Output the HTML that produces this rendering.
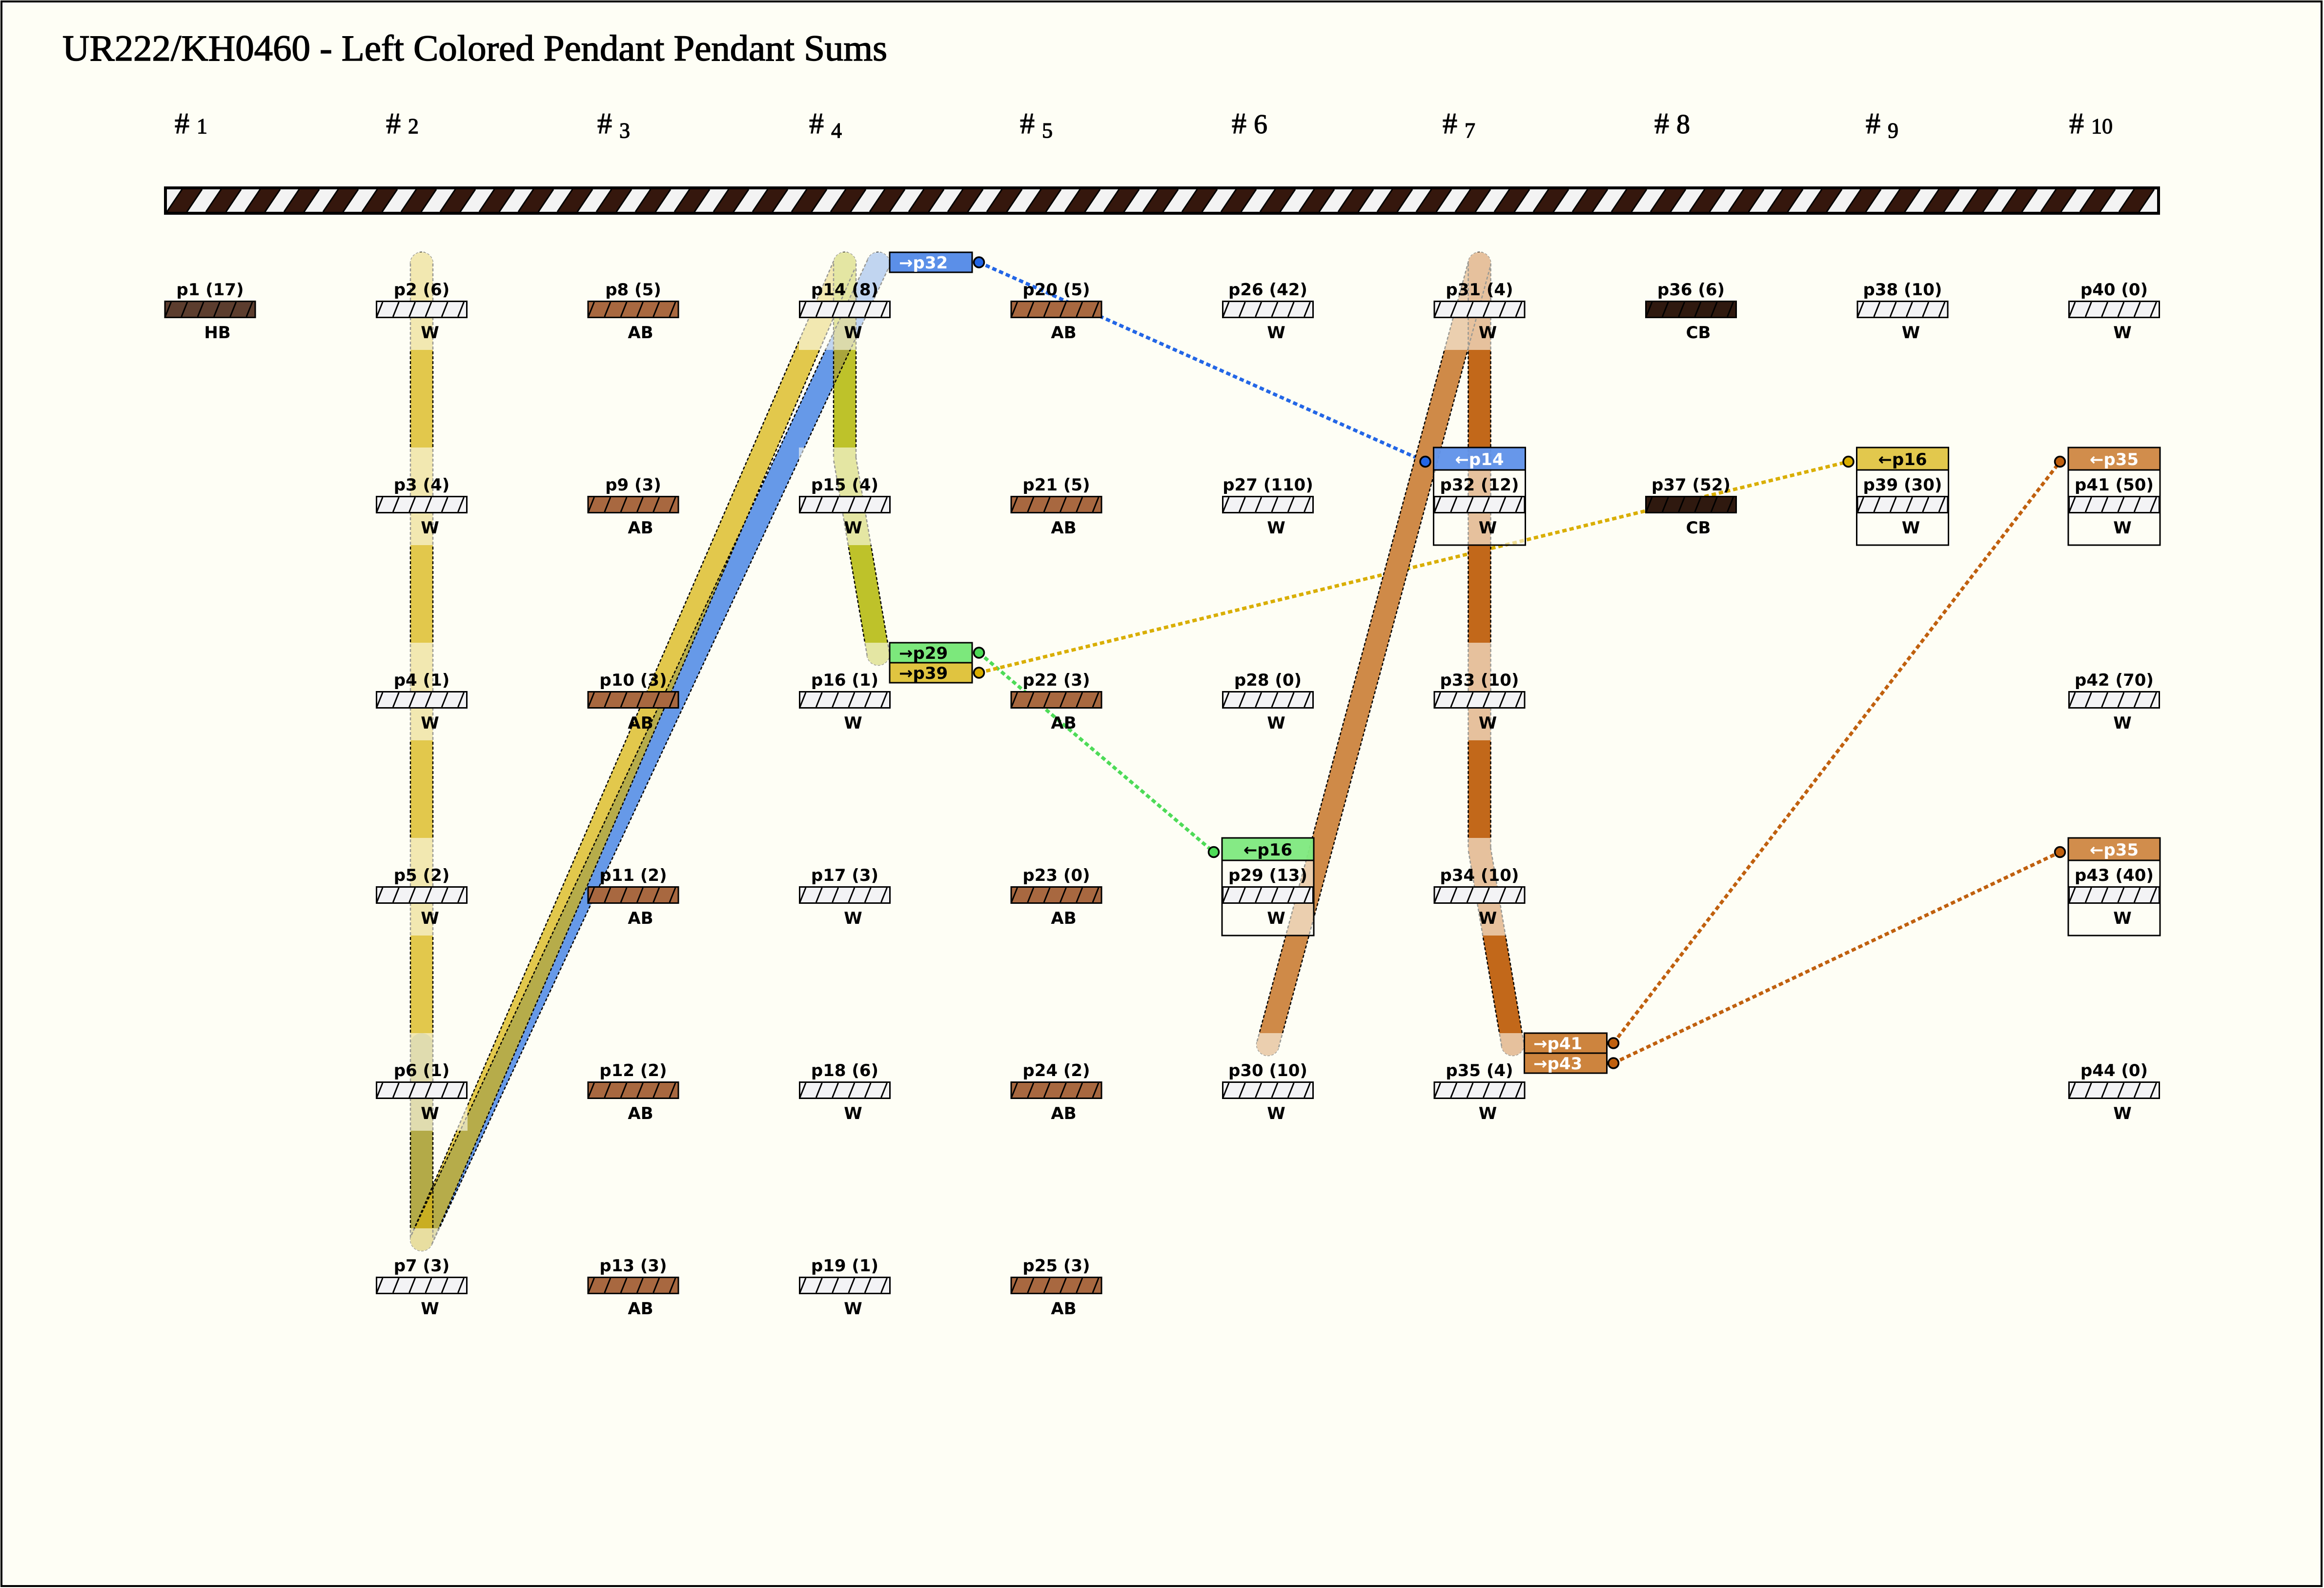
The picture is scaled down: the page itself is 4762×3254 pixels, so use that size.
<!DOCTYPE html>
<html><head><meta charset="utf-8"><title>UR222/KH0460 - Left Colored Pendant Pendant Sums</title>
<style>
html,body{margin:0;padding:0;background:#fefef5;}
svg{display:block;}
.lab{font-family:"DejaVu Sans","Liberation Sans",sans-serif;font-weight:bold;font-size:34px;fill:#000;}
.hdr{font-family:"Liberation Serif",serif;font-size:60px;fill:#000;stroke:#000;stroke-width:1.2px;}
</style></head>
<body>
<svg xmlns="http://www.w3.org/2000/svg" width="4762" height="3254" viewBox="0 0 4762 3254">
<defs>
  <pattern id="cord" patternUnits="userSpaceOnUse" x="342" y="388" width="80" height="46">
    <rect x="0" y="0" width="80" height="46" fill="#f3f3f3"/>
    <polygon points="0,46 41,46 72,0 31,0" fill="#35170d"/>
    <line x1="0" y1="46" x2="31" y2="0" stroke="#000" stroke-width="3"/>
    <line x1="41" y1="46" x2="72" y2="0" stroke="#000" stroke-width="3"/>
    <line x1="80" y1="46" x2="111" y2="0" stroke="#000" stroke-width="3"/>
  </pattern>
  <g id="stl" stroke="#000" stroke-width="3" fill="none">
    <line x1="2" y1="33" x2="14" y2="3"/><line x1="35.3" y1="33" x2="47.3" y2="3"/>
    <line x1="68.6" y1="33" x2="80.6" y2="3"/><line x1="101.9" y1="33" x2="113.9" y2="3"/>
    <line x1="135.2" y1="33" x2="147.2" y2="3"/><line x1="168.5" y1="33" x2="180.5" y2="3"/>
  </g>
  <g id="bW"><rect x="1.5" y="1.5" width="185" height="33" fill="#f3f3f5"/><use href="#stl"/><rect x="1.5" y="1.5" width="185" height="33" fill="none" stroke="#000" stroke-width="3"/></g>
  <g id="bAB"><rect x="1.5" y="1.5" width="185" height="33" fill="#a86840"/><use href="#stl"/><rect x="1.5" y="1.5" width="185" height="33" fill="none" stroke="#000" stroke-width="3"/></g>
  <g id="bHB"><rect x="1.5" y="1.5" width="185" height="33" fill="#5c3d2e"/><use href="#stl"/><rect x="1.5" y="1.5" width="185" height="33" fill="none" stroke="#000" stroke-width="3"/></g>
  <g id="bCB"><rect x="1.5" y="1.5" width="185" height="33" fill="#2f190f"/><use href="#stl"/><rect x="1.5" y="1.5" width="185" height="33" fill="none" stroke="#000" stroke-width="3"/></g>
  <clipPath id="cS3">
    <polygon points="885.1,2549.15 1752.1,549.15 1709.9,530.85 842.9,2530.85"/>
    <circle cx="864" cy="2540" r="23"/><circle cx="1731" cy="540" r="23"/>
  </clipPath>
  <clipPath id="cS2"><rect x="841" y="2140" width="46" height="400"/><circle cx="864" cy="2540" r="23"/></clipPath>
  <clipPath id="cS5"><rect x="1708" y="540" width="46" height="400"/></clipPath>
</defs>

<rect x="0" y="0" width="4762" height="3254" fill="#fefef5"/>
<rect x="3" y="3" width="4754" height="3247" fill="none" stroke="#000" stroke-width="4"/>

<!-- Title -->
<text x="128" y="124" font-family="Liberation Serif, serif" font-size="75" stroke="#000" stroke-width="1.5" textLength="1690" lengthAdjust="spacingAndGlyphs">UR222/KH0460 - Left Colored Pendant Pendant Sums</text>

<!-- Column headers -->
<g class="hdr">
  <text x="358" y="273"># <tspan font-size="44">1</tspan></text>
  <text x="791" y="273"># <tspan font-size="44">2</tspan></text>
  <text x="1224" y="273"># <tspan font-size="44" dy="9">3</tspan></text>
  <text x="1658" y="273"># <tspan font-size="44" dy="9">4</tspan></text>
  <text x="2090" y="273"># <tspan font-size="44" dy="9">5</tspan></text>
  <text x="2524" y="273"># <tspan font-size="56">6</tspan></text>
  <text x="2956" y="273"># <tspan font-size="44" dy="9">7</tspan></text>
  <text x="3390" y="273"># <tspan font-size="56">8</tspan></text>
  <text x="3823" y="273"># <tspan font-size="44" dy="9">9</tspan></text>
  <text x="4240" y="273"># <tspan font-size="44">10</tspan></text>
</g>

<!-- Main cord -->
<rect x="339" y="385" width="4084" height="52" fill="url(#cord)" stroke="#000" stroke-width="6"/>

<!-- Dotted connectors (under bands) -->
<g fill="none" stroke-width="7" stroke-dasharray="9 6">
  <line x1="2006" y1="537.5" x2="2920.5" y2="946" stroke="#2366e6"/>
  <line x1="2006" y1="1337.5" x2="2487" y2="1746" stroke="#4ddb57"/>
  <line x1="2006" y1="1378.5" x2="3787.5" y2="946" stroke="#d9ae00"/>
  <line x1="3306" y1="2137.5" x2="4221" y2="946" stroke="#c0600e"/>
  <line x1="3306" y1="2178.5" x2="4221" y2="1746" stroke="#c0600e"/>
</g>

<!-- Band cap outlines -->
<g fill="none" stroke="#000" stroke-width="2.5" stroke-dasharray="5 3">
  <circle cx="864" cy="540" r="23"/>
  <circle cx="864" cy="2540" r="23"/>
  <circle cx="1731" cy="540" r="23"/>
  <circle cx="1799.5" cy="540" r="23"/>
  <circle cx="1799.5" cy="1340" r="23"/>
  <circle cx="2598" cy="2140" r="23"/>
  <circle cx="3031.5" cy="540" r="23"/>
  <circle cx="3099.5" cy="2140" r="23"/>
</g>

<!-- Band fills -->
<g fill="none" stroke-width="46" stroke-linecap="round">
  <line x1="864" y1="540" x2="864" y2="2140" stroke="#e2c84c"/>
  <line x1="2598" y1="2140" x2="3031.5" y2="540" stroke="#cf8a48"/>
  <line x1="864" y1="2540" x2="1799.5" y2="540" stroke="#6699e8"/>
  <line x1="864" y1="2540" x2="1731" y2="540" stroke="#e2c84c"/>
  <line x1="864" y1="2540" x2="1799.5" y2="540" stroke="#b6ac4a" clip-path="url(#cS3)"/>
  <line x1="864" y1="2140" x2="864" y2="2540" stroke="#b3aa48"/>
  <line x1="864" y1="2540" x2="1731" y2="540" stroke="#c9ae22" clip-path="url(#cS2)"/>
  <line x1="1731" y1="540" x2="1731" y2="940" stroke="#bec22a"/>
  <line x1="1731" y1="940" x2="1799.5" y2="1340" stroke="#bec22a"/>
  <line x1="864" y1="2540" x2="1799.5" y2="540" stroke="#a9a53c" clip-path="url(#cS5)"/>
  <line x1="3031.5" y1="540" x2="3031.5" y2="1740" stroke="#c2681a"/>
  <line x1="3031.5" y1="1740" x2="3099.5" y2="2140" stroke="#c2681a"/>
</g>

<!-- Band dashed edges -->
<g fill="none" stroke="#000" stroke-width="2.5" stroke-dasharray="6 4">
  <line x1="841" y1="540" x2="841" y2="2540"/>
  <line x1="887" y1="540" x2="887" y2="2540"/>
  <line x1="885.1" y1="2549.15" x2="1752.1" y2="549.15"/>
  <line x1="842.9" y1="2530.85" x2="1709.9" y2="530.85"/>
  <line x1="884.83" y1="2549.74" x2="1820.33" y2="549.74"/>
  <line x1="843.17" y1="2530.26" x2="1778.67" y2="530.26"/>
  <line x1="1708" y1="540" x2="1708" y2="940"/>
  <line x1="1754" y1="540" x2="1754" y2="940"/>
  <line x1="1753.67" y1="936.12" x2="1822.17" y2="1336.12"/>
  <line x1="1708.33" y1="943.88" x2="1776.83" y2="1343.88"/>
  <line x1="2620.2" y1="2146.01" x2="3053.7" y2="546.01"/>
  <line x1="2575.8" y1="2133.99" x2="3009.3" y2="533.99"/>
  <line x1="3008.5" y1="540" x2="3008.5" y2="1740"/>
  <line x1="3054.5" y1="540" x2="3054.5" y2="1740"/>
  <line x1="3054.17" y1="1736.15" x2="3122.17" y2="2136.15"/>
  <line x1="3008.83" y1="1743.85" x2="3076.83" y2="2143.85"/>
</g>

<!-- Fade overlays for member pendants -->
<g fill="#fefef5" fill-opacity="0.6">
  <rect x="770" y="517" width="188" height="200"/>
  <rect x="770" y="917" width="188" height="200"/>
  <rect x="770" y="1317" width="188" height="200"/>
  <rect x="770" y="1717" width="188" height="200"/>
  <rect x="770" y="2117" width="188" height="200"/>
  <rect x="770" y="2517" width="188" height="200"/>
  <rect x="1637" y="517" width="188" height="200"/>
  <rect x="1637" y="917" width="188" height="200"/>
  <rect x="1637" y="1317" width="188" height="200"/>
  <rect x="2504" y="2117" width="188" height="200"/>
  <rect x="2937.5" y="517" width="188" height="200"/>
  <rect x="2937.5" y="1317" width="188" height="200"/>
  <rect x="2937.5" y="1717" width="188" height="200"/>
  <rect x="2937.5" y="2117" width="188" height="200"/>
</g>

<!-- Boxed pendants (outer frame + header) -->
<g stroke="#000" stroke-width="3">
  <rect x="2504" y="1717" width="188" height="200" fill="#fefef5" fill-opacity="0.6"/>
  <rect x="2504" y="1717" width="188" height="46" fill="#7ce87c" fill-opacity="0.93"/>
  <rect x="2937.5" y="917" width="188" height="200" fill="#fefef5" fill-opacity="0.6"/>
  <rect x="2937.5" y="917" width="188" height="46" fill="#5b8fe8" fill-opacity="0.93"/>
  <rect x="3804.5" y="917" width="188" height="200" fill="#fefef5" fill-opacity="0.6"/>
  <rect x="3804.5" y="917" width="188" height="46" fill="#e0c440" fill-opacity="0.93"/>
  <rect x="4238" y="917" width="188" height="200" fill="#fefef5" fill-opacity="0.6"/>
  <rect x="4238" y="917" width="188" height="46" fill="#cd843e" fill-opacity="0.93"/>
  <rect x="4238" y="1717" width="188" height="200" fill="#fefef5" fill-opacity="0.6"/>
  <rect x="4238" y="1717" width="188" height="46" fill="#cd843e" fill-opacity="0.93"/>
</g>
<g class="lab" text-anchor="middle">
  <text x="2598" y="1753">←p16</text>
  <text x="3031.5" y="953" style="fill:#fff">←p14</text>
  <text x="3898.5" y="953">←p16</text>
  <text x="4332" y="953" style="fill:#fff">←p35</text>
  <text x="4332" y="1753" style="fill:#fff">←p35</text>
</g>

<!-- Pendant boxes -->
<use href="#bHB" x="336.5" y="616"/>
<use href="#bW" x="770" y="616"/><use href="#bW" x="770" y="1016"/><use href="#bW" x="770" y="1416"/>
<use href="#bW" x="770" y="1816"/><use href="#bW" x="770" y="2216"/><use href="#bW" x="770" y="2616"/>
<use href="#bAB" x="1203.5" y="616"/><use href="#bAB" x="1203.5" y="1016"/><use href="#bAB" x="1203.5" y="1416"/>
<use href="#bAB" x="1203.5" y="1816"/><use href="#bAB" x="1203.5" y="2216"/><use href="#bAB" x="1203.5" y="2616"/>
<use href="#bW" x="1637" y="616"/><use href="#bW" x="1637" y="1016"/><use href="#bW" x="1637" y="1416"/>
<use href="#bW" x="1637" y="1816"/><use href="#bW" x="1637" y="2216"/><use href="#bW" x="1637" y="2616"/>
<use href="#bAB" x="2070.5" y="616"/><use href="#bAB" x="2070.5" y="1016"/><use href="#bAB" x="2070.5" y="1416"/>
<use href="#bAB" x="2070.5" y="1816"/><use href="#bAB" x="2070.5" y="2216"/><use href="#bAB" x="2070.5" y="2616"/>
<use href="#bW" x="2504" y="616"/><use href="#bW" x="2504" y="1016"/><use href="#bW" x="2504" y="1416"/>
<use href="#bW" x="2504" y="1816"/><use href="#bW" x="2504" y="2216"/>
<use href="#bW" x="2937.5" y="616"/><use href="#bW" x="2937.5" y="1016"/><use href="#bW" x="2937.5" y="1416"/>
<use href="#bW" x="2937.5" y="1816"/><use href="#bW" x="2937.5" y="2216"/>
<use href="#bCB" x="3371" y="616"/><use href="#bCB" x="3371" y="1016"/>
<use href="#bW" x="3804.5" y="616"/><use href="#bW" x="3804.5" y="1016"/>
<use href="#bW" x="4238" y="616"/><use href="#bW" x="4238" y="1016"/><use href="#bW" x="4238" y="1416"/>
<use href="#bW" x="4238" y="1816"/><use href="#bW" x="4238" y="2216"/>

<!-- Pendant labels -->
<g class="lab" text-anchor="middle">
  <text x="430.5" y="605">p1 (17)</text>
  <text x="864" y="605">p2 (6)</text><text x="864" y="1005">p3 (4)</text><text x="864" y="1405">p4 (1)</text>
  <text x="864" y="1805">p5 (2)</text><text x="864" y="2205">p6 (1)</text><text x="864" y="2605">p7 (3)</text>
  <text x="1297.5" y="605">p8 (5)</text><text x="1297.5" y="1005">p9 (3)</text><text x="1297.5" y="1405">p10 (3)</text>
  <text x="1297.5" y="1805">p11 (2)</text><text x="1297.5" y="2205">p12 (2)</text><text x="1297.5" y="2605">p13 (3)</text>
  <text x="1731" y="605">p14 (8)</text><text x="1731" y="1005">p15 (4)</text><text x="1731" y="1405">p16 (1)</text>
  <text x="1731" y="1805">p17 (3)</text><text x="1731" y="2205">p18 (6)</text><text x="1731" y="2605">p19 (1)</text>
  <text x="2164.5" y="605">p20 (5)</text><text x="2164.5" y="1005">p21 (5)</text><text x="2164.5" y="1405">p22 (3)</text>
  <text x="2164.5" y="1805">p23 (0)</text><text x="2164.5" y="2205">p24 (2)</text><text x="2164.5" y="2605">p25 (3)</text>
  <text x="2598" y="605">p26 (42)</text><text x="2598" y="1005">p27 (110)</text><text x="2598" y="1405">p28 (0)</text>
  <text x="2598" y="1805">p29 (13)</text><text x="2598" y="2205">p30 (10)</text>
  <text x="3031.5" y="605">p31 (4)</text><text x="3031.5" y="1005">p32 (12)</text><text x="3031.5" y="1405">p33 (10)</text>
  <text x="3031.5" y="1805">p34 (10)</text><text x="3031.5" y="2205">p35 (4)</text>
  <text x="3465" y="605">p36 (6)</text><text x="3465" y="1005">p37 (52)</text>
  <text x="3898.5" y="605">p38 (10)</text><text x="3898.5" y="1005">p39 (30)</text>
  <text x="4332" y="605">p40 (0)</text><text x="4332" y="1005">p41 (50)</text><text x="4332" y="1405">p42 (70)</text>
  <text x="4332" y="1805">p43 (40)</text><text x="4332" y="2205">p44 (0)</text>
</g>

<!-- Color labels -->
<g class="lab" text-anchor="middle">
  <text x="445.5" y="693">HB</text>
  <text x="881" y="693">W</text><text x="881" y="1093">W</text><text x="881" y="1493">W</text>
  <text x="881" y="1893">W</text><text x="881" y="2293">W</text><text x="881" y="2693">W</text>
  <text x="1312.5" y="693">AB</text><text x="1312.5" y="1093">AB</text><text x="1312.5" y="1493">AB</text>
  <text x="1312.5" y="1893">AB</text><text x="1312.5" y="2293">AB</text><text x="1312.5" y="2693">AB</text>
  <text x="1748" y="693">W</text><text x="1748" y="1093">W</text><text x="1748" y="1493">W</text>
  <text x="1748" y="1893">W</text><text x="1748" y="2293">W</text><text x="1748" y="2693">W</text>
  <text x="2179.5" y="693">AB</text><text x="2179.5" y="1093">AB</text><text x="2179.5" y="1493">AB</text>
  <text x="2179.5" y="1893">AB</text><text x="2179.5" y="2293">AB</text><text x="2179.5" y="2693">AB</text>
  <text x="2615" y="693">W</text><text x="2615" y="1093">W</text><text x="2615" y="1493">W</text>
  <text x="2615" y="1893">W</text><text x="2615" y="2293">W</text>
  <text x="3048.5" y="693">W</text><text x="3048.5" y="1093">W</text><text x="3048.5" y="1493">W</text>
  <text x="3048.5" y="1893">W</text><text x="3048.5" y="2293">W</text>
  <text x="3480" y="693">CB</text><text x="3480" y="1093">CB</text>
  <text x="3915.5" y="693">W</text><text x="3915.5" y="1093">W</text>
  <text x="4349" y="693">W</text><text x="4349" y="1093">W</text><text x="4349" y="1493">W</text>
  <text x="4349" y="1893">W</text><text x="4349" y="2293">W</text>
</g>

<!-- Tags -->
<g stroke="#000" stroke-width="3">
  <rect x="1823" y="517" width="169" height="41" fill="#5b8fe8"/>
  <rect x="1823" y="1317" width="169" height="41" fill="#7ce87c"/>
  <rect x="1823" y="1358" width="169" height="41" fill="#e0c440"/>
  <rect x="3123.5" y="2117" width="169" height="41" fill="#cd843e"/>
  <rect x="3123.5" y="2158" width="169" height="41" fill="#cd843e"/>
</g>
<g class="lab">
  <text x="1842" y="550" style="fill:#fff">→p32</text>
  <text x="1842" y="1350">→p29</text>
  <text x="1842" y="1391">→p39</text>
  <text x="3142" y="2150" style="fill:#fff">→p41</text>
  <text x="3142" y="2191" style="fill:#fff">→p43</text>
</g>

<!-- Connector end circles -->
<g stroke="#000" stroke-width="3.5">
  <circle cx="2006" cy="537.5" r="10.5" fill="#2366e6"/>
  <circle cx="2006" cy="1337.5" r="10.5" fill="#4ddb57"/>
  <circle cx="2006" cy="1378.5" r="10.5" fill="#d9ae00"/>
  <circle cx="3306" cy="2137.5" r="10.5" fill="#c0600e"/>
  <circle cx="3306" cy="2178.5" r="10.5" fill="#c0600e"/>
  <circle cx="2920.5" cy="946" r="10.5" fill="#2366e6"/>
  <circle cx="2487" cy="1746" r="10.5" fill="#4ddb57"/>
  <circle cx="3787.5" cy="946" r="10.5" fill="#d9ae00"/>
  <circle cx="4221" cy="946" r="10.5" fill="#c0600e"/>
  <circle cx="4221" cy="1746" r="10.5" fill="#c0600e"/>
</g>
</svg>
</body></html>
